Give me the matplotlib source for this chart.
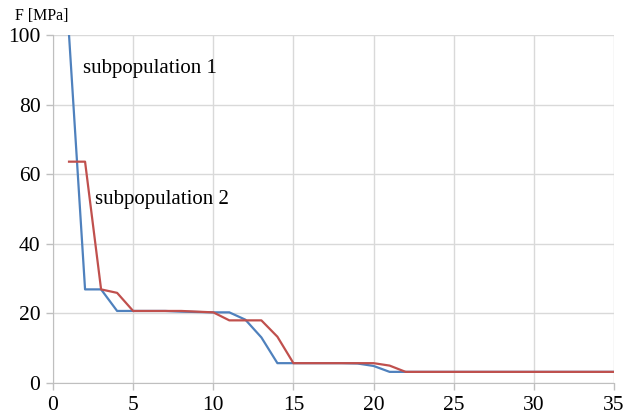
import matplotlib
matplotlib.use('Agg')
import matplotlib.pyplot as plt

# F values per step for the two subpopulations
steps = list(range(1, 36))
sub1 = [100, 26.9, 26.9, 20.7, 20.7, 20.7, 20.7, 20.5, 20.4, 20.3, 20.3, 18.2, 13.1, 5.7, 5.7,
        5.7, 5.7, 5.7, 5.6, 4.9, 3.2] + [3.2] * 14
sub2 = [63.6, 63.6, 26.9, 25.9, 20.7, 20.7, 20.7, 20.7, 20.5, 20.3, 18.0, 18.0, 18.0, 13.3, 5.7,
        5.7, 5.7, 5.7, 5.7, 5.7, 5.0, 3.2] + [3.2] * 13

plt.rcParams['font.family'] = ['Liberation Serif', 'DejaVu Serif']

fig = plt.figure(figsize=(6.34, 4.17), dpi=100)
ax = fig.add_axes([53 / 634, 1 - 383 / 417, 561 / 634, 348 / 417])

ax.plot(steps, sub1, color='#4F81BD', linewidth=1.6)
ax.plot(steps, sub2, color='#C0504D', linewidth=1.6)

ax.set_xlim(0, 35)
ax.set_ylim(0, 100)
ax.set_xticks(range(0, 36, 5))
ax.set_yticks(range(0, 101, 20))
ax.grid(True, color='#D9D9D9', linewidth=1)
ax.set_axisbelow(True)
for s in ['top', 'right']:
    ax.spines[s].set_visible(False)
for s in ['left', 'bottom']:
    ax.spines[s].set_color('#BFBFBF')
ax.tick_params(colors='#BFBFBF', labelcolor='black', labelsize=15.5, length=5, width=1)
ax.tick_params(axis='x', pad=4)
ax.tick_params(axis='y', pad=4)

ax.text(1.87, 90.5, 'subpopulation 1', fontsize=15, va='center', ha='left')
ax.text(2.6, 52.6, 'subpopulation 2', fontsize=15, va='center', ha='left')
fig.text(15 / 634, 1 - 16 / 417, 'F [MPa]', fontsize=11.5, va='center', ha='left')

fig.savefig('out.png', dpi=100)
